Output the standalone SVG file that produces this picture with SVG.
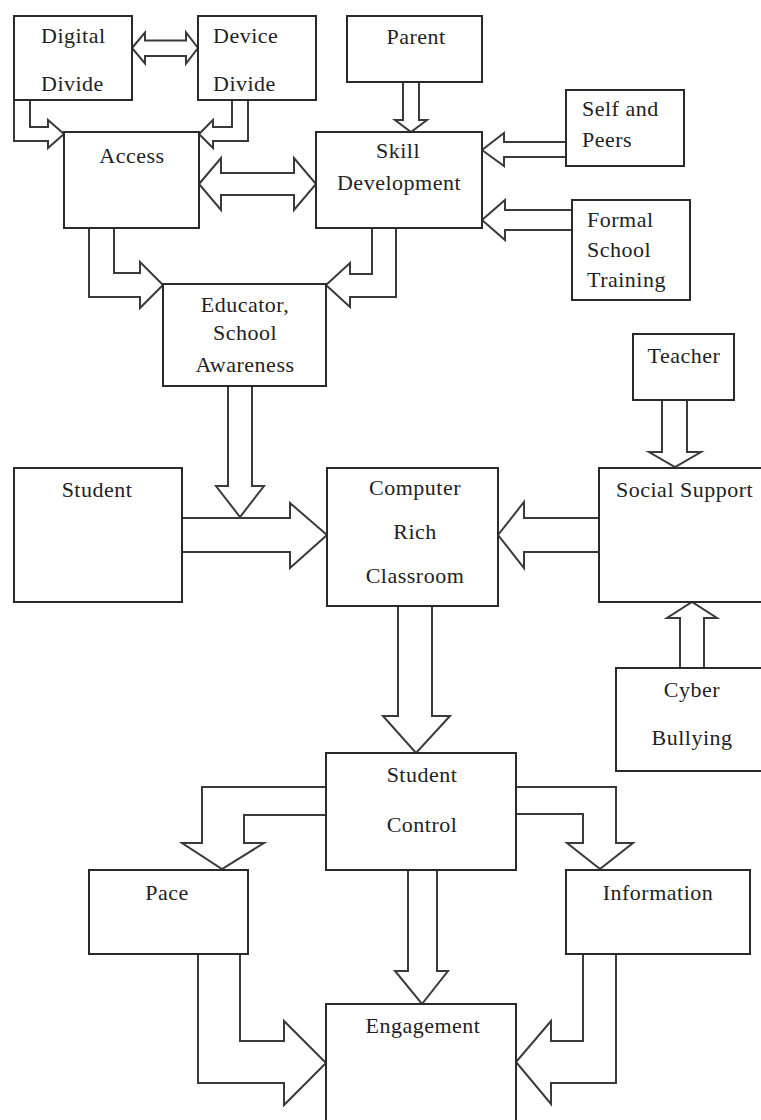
<svg xmlns="http://www.w3.org/2000/svg" width="761" height="1120" viewBox="0 0 761 1120">
<style>
.box{fill:#fff;stroke:#2a2a2a;stroke-width:2}
.arr{fill:#fff;stroke:#3a3a3a;stroke-width:2;stroke-linejoin:miter}
text{font-family:"Liberation Serif","Times New Roman",serif;font-size:22px;letter-spacing:0.5px;fill:#222}
.c{text-anchor:middle}
</style>
<rect width="761" height="1120" fill="#fff"/>
<g id="connectors">
<path class="arr" d="M132,48 L145,32.5 V40.5 H186 V32.5 L198,48 L186,63.5 V56 H145 V63.5 Z"/>
<path class="arr" d="M199,184 L221,158 V173 H294 V158 L316,184 L294,210 V195 H221 V210 Z"/>
<path class="arr" d="M14,100 V141 H48 V148 L64,134 L48,120 V127 H30 V100"/>
<path class="arr" d="M232,100 V127 H213 V120 L199,134 L213,148 V141 H248 V100"/>
<path class="arr" d="M403,82 V120 H395 L411,132 L427,120 H419 V82"/>
<path class="arr" d="M566,142 H504 V133 L482,150 L504,166 V157 H566"/>
<path class="arr" d="M572,210 H505 V200 L482,220 L505,240 V230 H572"/>
<path class="arr" d="M372,228 V274 H350 V263 L326,285 L350,307 V297 H396 V228"/>
<path class="arr" d="M114,228 V273 H140 V262 L163,285 L140,308 V297 H89 V228"/>
<path class="arr" d="M228,386 V486 H216 L240,517 L264,486 H252 V386"/>
<path class="arr" d="M182,518 H290 V503 L327,535 L290,568 V552 H182"/>
<path class="arr" d="M599,518 H524 V502 L498,535 L524,568 V552 H599"/>
<path class="arr" d="M662,400 V452 H649 L675,467 L701,452 H687 V400"/>
<path class="arr" d="M680,668 V618 H667 L692,602 L717,618 H704 V668"/>
<path class="arr" d="M398,606 V716 H383 L416,753 L450,716 H432 V606"/>
<path class="arr" d="M326,787 H202 V843 H182 L222,869 L264,843 H244 V815 H326"/>
<path class="arr" d="M516,787 H616 V843 H633 L600,869 L567,843 H583 V814 H516"/>
<path class="arr" d="M408,870 V971 H395 L422,1004 L448,971 H437 V870"/>
<path class="arr" d="M240,954 V1041 H284 V1021 L326,1063 L284,1105 V1083 H198 V954"/>
<path class="arr" d="M583,954 V1041 H551 V1021 L516,1062 L551,1104 V1083 H616 V954"/>
</g>
<g id="digital-divide"><rect class="box" x="14" y="16" width="118" height="84"/><text x="41" y="43">Digital</text><text x="41" y="91">Divide</text></g>
<g id="device-divide"><rect class="box" x="198" y="16" width="118" height="84"/><text x="213" y="43">Device</text><text x="213" y="91">Divide</text></g>
<g id="parent"><rect class="box" x="347" y="16" width="135" height="66"/><text class="c" x="416" y="44">Parent</text></g>
<g id="access"><rect class="box" x="64" y="132" width="135" height="96"/><text class="c" x="132" y="163">Access</text></g>
<g id="skill-development"><rect class="box" x="316" y="132" width="166" height="96"/><text class="c" x="398" y="158">Skill</text><text class="c" x="399" y="190">Development</text></g>
<g id="self-peers"><rect class="box" x="566" y="90" width="118" height="76"/><text x="582" y="116">Self and</text><text x="582" y="147">Peers</text></g>
<g id="formal-training"><rect class="box" x="572" y="200" width="118" height="100"/><text x="587" y="227">Formal</text><text x="587" y="257">School</text><text x="587" y="287">Training</text></g>
<g id="educator"><rect class="box" x="163" y="284" width="163" height="102"/><text class="c" x="245" y="312">Educator,</text><text class="c" x="245" y="340">School</text><text class="c" x="245" y="372">Awareness</text></g>
<g id="student"><rect class="box" x="14" y="468" width="168" height="134"/><text class="c" x="97" y="497">Student</text></g>
<g id="computer-rich-classroom"><rect class="box" x="327" y="468" width="171" height="138"/><text class="c" x="415" y="495">Computer</text><text class="c" x="415" y="539">Rich</text><text class="c" x="415" y="583">Classroom</text></g>
<g id="teacher"><rect class="box" x="633" y="334" width="101" height="66"/><text class="c" x="684" y="363">Teacher</text></g>
<g id="social-support"><rect class="box" x="599" y="468" width="170" height="134"/><text x="616" y="497">Social Support</text></g>
<g id="cyber-bullying"><rect class="box" x="616" y="668" width="153" height="103"/><text class="c" x="692" y="697">Cyber</text><text class="c" x="692" y="745">Bullying</text></g>
<g id="student-control"><rect class="box" x="326" y="753" width="190" height="117"/><text class="c" x="422" y="782">Student</text><text class="c" x="422" y="832">Control</text></g>
<g id="pace"><rect class="box" x="89" y="870" width="159" height="84"/><text class="c" x="167" y="900">Pace</text></g>
<g id="information"><rect class="box" x="566" y="870" width="184" height="84"/><text class="c" x="658" y="900">Information</text></g>
<g id="engagement"><rect class="box" x="326" y="1004" width="190" height="130"/><text class="c" x="423" y="1033">Engagement</text></g>
</svg>
